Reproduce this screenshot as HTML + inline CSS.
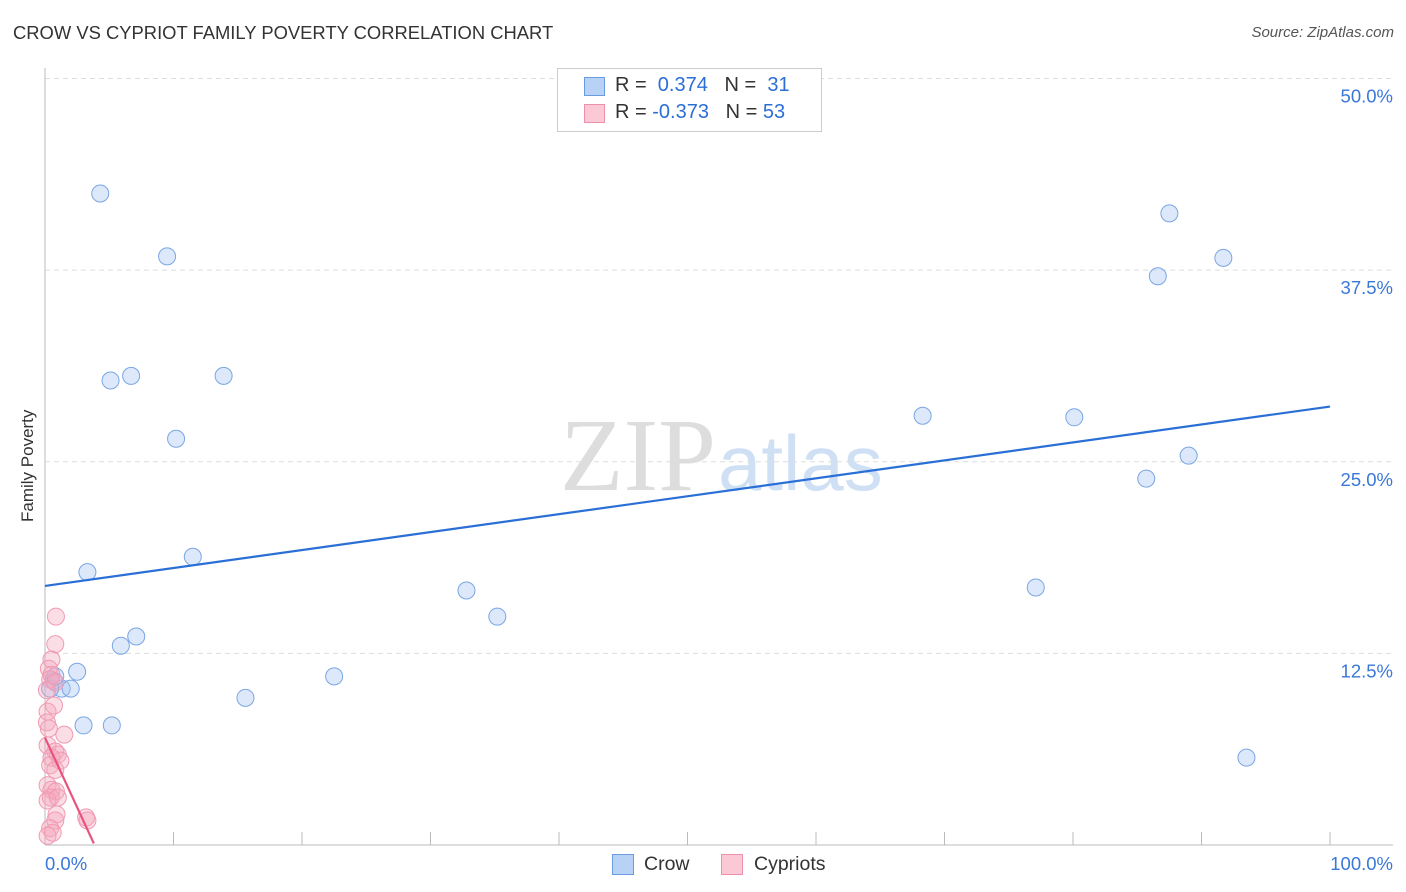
<!DOCTYPE html>
<html><head><meta charset="utf-8"><style>
body{margin:0;background:#fff;font-family:"Liberation Sans",sans-serif;}
#wrap{position:relative;width:1406px;height:892px;overflow:hidden}
.t{position:absolute;white-space:nowrap}
</style></head><body>
<div id="wrap">
<div class="t" style="left:13px;top:22px;font-size:18.4px;color:#333">CROW VS CYPRIOT FAMILY POVERTY CORRELATION CHART</div>
<div class="t" style="right:12px;top:24px;font-size:15px;color:#555;font-style:italic">Source: ZipAtlas.com</div>
<div class="t" style="left:18px;top:522px;font-size:17px;color:#333;transform:rotate(-90deg);transform-origin:left top">Family Poverty</div>
<svg id="svg" width="1406" height="892" style="position:absolute;left:0;top:0">
<text x="716" y="490" font-family="Liberation Serif,serif" font-size="104" fill="#ddd" text-anchor="end">ZIP</text>
<text x="718" y="490" font-family="Liberation Sans,sans-serif" font-size="78" fill="#cfe0f5">atlas</text>
</svg>
<div style="position:absolute;left:557px;top:68px;width:263px;height:62px;border:1px solid #ccc;background:#fff">
<div style="position:absolute;left:26px;top:8px;width:19px;height:17px;background:#b7d2f5;border:1px solid #6a9be0"></div>
<div class="t" style="left:57px;top:5px;font-size:20px;color:#333">R = &nbsp;<span style="color:#2b6fd6">0.374</span> &nbsp; N = &nbsp;<span style="color:#2b6fd6">31</span></div>
<div style="position:absolute;left:26px;top:35px;width:19px;height:17px;background:#fbc8d6;border:1px solid #ee90ab"></div>
<div class="t" style="left:57px;top:32px;font-size:20px;color:#333">R = <span style="color:#2b6fd6">-0.373</span> &nbsp; N = <span style="color:#2b6fd6">53</span></div>
</div>
<div style="position:absolute;left:612px;top:854px;width:20px;height:19px;background:#b7d2f5;border:1px solid #6a9be0"></div>
<div class="t" style="left:644px;top:853px;font-size:19.5px;color:#333">Crow</div>
<div style="position:absolute;left:721px;top:854px;width:20px;height:19px;background:#fbc8d6;border:1px solid #ee90ab"></div>
<div class="t" style="left:754px;top:853px;font-size:19.5px;color:#333">Cypriots</div>
</div>
<script>
const yTicks=[12.5,25,37.5,50];
const yTickLabels=["12.5%","25.0%","37.5%","50.0%"];
const xTickLabels=["0.0%","100.0%"];
const crowX=[4.3,9.5,5.1,6.7,13.9,10.2,11.5,3.3,5.9,7.1,2.5,0.7,1.3,2.0,3.0,5.2,15.6,22.5,32.8,35.2,68.3,77.1,80.1,85.7,86.6,87.5,89.0,91.7,93.5,0.4,0.8];
const crowY=[42.5,38.4,30.3,30.6,30.6,26.5,18.8,17.8,13.0,13.6,11.3,10.7,10.2,10.2,7.8,7.8,9.6,11.0,16.6,14.9,28.0,16.8,27.9,23.9,37.1,41.2,25.4,38.3,5.7,10.2,11.0];
const cypX=[0.85,0.8,0.5,0.3,0.5,0.4,0.8,0.2,0.15,0.3,1.5,0.2,0.8,1.0,0.5,0.4,0.8,0.2,0.5,0.85,0.45,1.0,0.2,0.9,0.8,3.2,3.3,0.4,0.6,0.2,1.2,0.15,0.7];
const cypY=[14.9,13.1,12.1,11.5,11.1,10.8,10.6,8.7,8.0,7.6,7.2,6.5,6.1,5.9,5.7,5.2,4.9,3.9,3.6,3.5,3.1,3.1,2.9,2.0,1.6,1.8,1.6,1.1,0.8,0.6,5.5,10.1,9.1];
const crowTrend=[16.9,28.6];
const cypTrend=[7.0,0.1,3.8];
const X=v=>45+v*12.85, Y=v=>845-v*15.33;
const svg=document.getElementById('svg'),NS='http://www.w3.org/2000/svg';
function mk(t,a){const e=document.createElementNS(NS,t);for(const k in a)e.setAttribute(k,a[k]);svg.appendChild(e);return e;}
yTicks.forEach((v,i)=>{
 const g=mk('line',{x1:45,x2:1393,y1:Y(v),y2:Y(v),stroke:'#ddd','stroke-dasharray':'5,4'});
 
 
 const t=mk('text',{x:1393,y:Y(v)+24,'text-anchor':'end','font-size':18.5,fill:'#3a78d8','font-family':'Liberation Sans,sans-serif'});
 t.textContent=yTickLabels[i];
 
 
});
let a=mk('line',{x1:45,x2:45,y1:68,y2:845,stroke:'#bbb'});
a=mk('line',{x1:45,x2:1393,y1:845,y2:845,stroke:'#bbb'});
for(let i=1;i<=10;i++){const k=mk('line',{x1:X(i*10),x2:X(i*10),y1:832,y2:845,stroke:'#bbb'});}
[[0,'start',45],[100,'end',1393]].forEach((d,i)=>{const t=mk('text',{x:d[2],y:870,'text-anchor':d[1],'font-size':18.5,fill:'#3a78d8','font-family':'Liberation Sans,sans-serif'});t.textContent=xTickLabels[i];});
crowX.forEach((x,i)=>{const c=mk('circle',{cx:X(x),cy:Y(crowY[i]),r:8.5,fill:'rgba(170,200,242,0.4)',stroke:'#7aa6e4','stroke-width':1});});
cypX.forEach((x,i)=>{const c=mk('circle',{cx:X(x),cy:Y(cypY[i]),r:8.5,fill:'rgba(245,165,190,0.38)',stroke:'#f09ab3','stroke-width':1});});
let l=mk('line',{x1:X(0),y1:Y(crowTrend[0]),x2:X(100),y2:Y(crowTrend[1]),stroke:'#2a6fd6','stroke-width':2.2});
l=mk('line',{x1:X(0),y1:Y(cypTrend[0]),x2:X(cypTrend[2]),y2:Y(cypTrend[1]),stroke:'#e8537d','stroke-width':2.2});
</script>
</body></html>
